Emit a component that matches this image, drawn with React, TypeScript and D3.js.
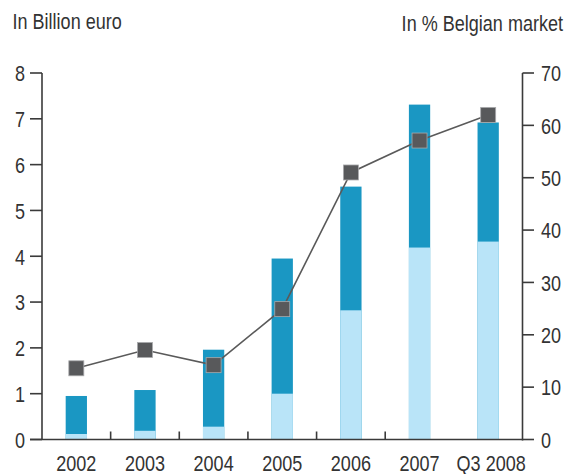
import React from "react";
import * as d3 from "d3";

const categories = ["2002", "2003", "2004", "2005", "2006", "2007", "Q3 2008"];
const lightValues = [0.12, 0.19, 0.28, 1.0, 2.82, 4.19, 4.32];
const totalValues = [0.95, 1.08, 1.96, 3.95, 5.52, 7.31, 6.92];
const sharePct = [13.6, 17.1, 14.2, 24.9, 51.0, 57.1, 62.0];
const leftTicks = [0, 1, 2, 3, 4, 5, 6, 7, 8];
const rightTicks = [0, 10, 20, 30, 40, 50, 60, 70];

const W = 569;
const H = 474;
const left = 42;
const right = 522.5;
const top = 73;
const bottom = 439.5;
const FONT = "'Liberation Sans', Arial, sans-serif";
const TXT = "#333333";
const AX = "#3a3a3a";
const FS = 22;
const SX = 0.82;

function T(props: { x: number; y: number; anchor?: "start" | "middle" | "end"; children: React.ReactNode }) {
  return (
    <text
      transform={`translate(${props.x},${props.y}) scale(${SX},1)`}
      fontFamily={FONT}
      fontSize={FS}
      fill={TXT}
      textAnchor={props.anchor || "start"}
    >
      {props.children}
    </text>
  );
}

export default function App() {
  const x = d3.scaleBand<string>().domain(categories).range([left, right]).paddingInner(0.69).paddingOuter(0.345);
  const xb = d3.scaleBand<string>().domain(categories).range([left, right]);
  const yL = d3.scaleLinear().domain([0, 8]).range([bottom, top]);
  const yR = d3.scaleLinear().domain([0, 70]).range([bottom, top]);
  const line = d3
    .line<number>()
    .x((_, i) => xb(categories[i])! + xb.bandwidth() / 2)
    .y((d) => yR(d));
  const ms = 15;
  return (
    <svg width={W} height={H} style={{ position: "absolute", left: 0, top: 0, background: "#fff" }}>
      <rect x={0} y={0} width={W} height={H} fill="#fff" />
      <T x={12.5} y={29.3}>In Billion euro</T>
      <T x={563} y={31} anchor="end">In % Belgian market</T>
      {categories.map((c, i) => (
        <g key={c}>
          <rect x={x(c)} width={x.bandwidth()} y={yL(totalValues[i])} height={yL(0) - yL(totalValues[i])} fill="#1a97c3" />
          <rect x={x(c)} width={x.bandwidth()} y={yL(lightValues[i])} height={yL(0) - yL(lightValues[i])} fill="#b9e4f8" />
        </g>
      ))}
      <line x1={left} x2={left} y1={top} y2={bottom} stroke={AX} strokeWidth={1.6} />
      <line x1={right} x2={right} y1={top} y2={bottom + 1} stroke={AX} strokeWidth={1.6} />
      <line x1={30} x2={right} y1={bottom} y2={bottom} stroke={AX} strokeWidth={1.6} />
      {leftTicks.map((t) => (
        <g key={"l" + t}>
          <line x1={30} x2={left} y1={yL(t)} y2={yL(t)} stroke={AX} strokeWidth={1.6} />
          <T x={25} y={yL(t) + 8.3} anchor="end">{t}</T>
        </g>
      ))}
      {rightTicks.map((t) => (
        <g key={"r" + t}>
          <line x1={right} x2={534} y1={yR(t)} y2={yR(t)} stroke={AX} strokeWidth={1.6} />
          <T x={541} y={yR(t) + 8.3}>{t}</T>
        </g>
      ))}
      {categories.slice(1, 6).map((c) => (
        <line key={"t" + c} x1={xb(c)} x2={xb(c)} y1={bottom} y2={bottom - 8} stroke={AX} strokeWidth={1.6} />
      ))}
      {categories.map((c, i) => (
        <T key={"x" + c} x={xb(c)! + xb.bandwidth() / 2 + (i === 6 ? 3 : 0)} y={470.5} anchor="middle">
          {c}
        </T>
      ))}
      <path d={line(sharePct) || ""} fill="none" stroke="#5a5a5a" strokeWidth={1.6} />
      {sharePct.map((v, i) => (
        <rect
          key={"m" + i}
          x={xb(categories[i])! + xb.bandwidth() / 2 - ms / 2}
          y={yR(v) - ms / 2}
          width={ms}
          height={ms}
          fill="#58595b"
          stroke="#a9aaac"
          strokeWidth={0.8}
        />
      ))}
    </svg>
  );
}
